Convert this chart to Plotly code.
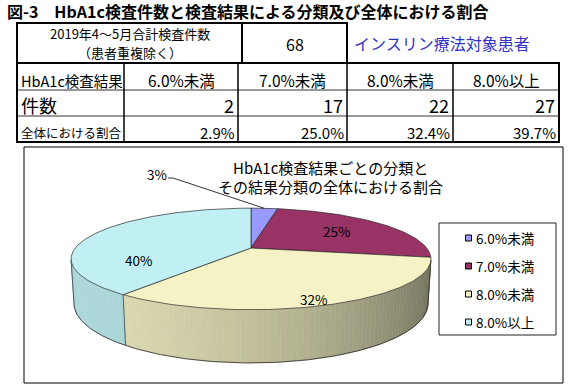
import numpy as np
import plotly.graph_objects as go

# ---------------- data ----------------
chart_title = "図-3　HbA1c検査件数と検査結果による分類及び全体における割合"
period_lines = ["2019年4～5月合計検査件数", "（患者重複除く）"]
total_count = 68
target_note = "インスリン療法対象患者"
row_headers = ["HbA1c検査結果", "件数", "全体における割合"]
categories = ["6.0%未満", "7.0%未満", "8.0%未満", "8.0%以上"]
counts = [2, 17, 22, 27]
pie_title_lines = ["HbA1c検査結果ごとの分類と", "その結果分類の全体における割合"]

# ---------------- styles / layout ----------------
W, H = 578, 389
JP = "Noto Sans CJK JP, sans-serif"
top_colors = [(153, 153, 255), (153, 51, 102), (245, 243, 198), (192, 240, 243)]

# table geometry
COL_X = [17, 124, 238, 347, 453, 559]
ROW_Y = [23, 63, 90, 116, 142]
TOP_SPLIT = 242
# chart box
BOX = (24, 147, 563, 383)
LEG = (439, 223, 556, 335)

shares = [100.0 * c / total_count for c in counts]
share_labels = [f"{s:.1f}%" for s in shares]
pie_labels = [f"{round(s)}%" for s in shares]

fig = go.Figure()
ann = []
shapes = []


def text(x, y, s, size, anchor="center", color="black", family=JP, bold=False):
    if bold:
        s = "<b>" + s + "</b>"
    ann.append(dict(x=x, y=y, xref="x", yref="y", text=s, showarrow=False,
                    xanchor=anchor, yanchor="middle",
                    font=dict(size=size, color=color, family=family)))


def rect(x0, y0, x1, y1, w=1, color="black"):
    shapes.append(dict(type="rect", xref="x", yref="y", x0=x0, y0=y0, x1=x1, y1=y1,
                       line=dict(color=color, width=w)))


def line(x0, y0, x1, y1, w=1, color="black"):
    shapes.append(dict(type="line", xref="x", yref="y", x0=x0, y0=y0, x1=x1, y1=y1,
                       line=dict(color=color, width=w)))


# ---------------- title ----------------
text(5, 11, chart_title, 16, anchor="left", bold=True)

# ---------------- table ----------------
rect(COL_X[0], ROW_Y[0], TOP_SPLIT, ROW_Y[1], w=2)
rect(TOP_SPLIT, ROW_Y[0], COL_X[3], ROW_Y[1], w=2)
rect(COL_X[0], ROW_Y[1], COL_X[-1], ROW_Y[-1], w=2)
for yy in ROW_Y[2:-1]:
    line(COL_X[0], yy, COL_X[-1], yy, w=1, color="#333")
for xx in COL_X[1:-1]:
    line(xx, ROW_Y[1], xx, ROW_Y[-1], w=1.5)

text((COL_X[0] + TOP_SPLIT) / 2, 33.5, period_lines[0], 13)
text((COL_X[0] + TOP_SPLIT) / 2, 52.5, period_lines[1], 13)
text((TOP_SPLIT + COL_X[3]) / 2, 44, str(total_count), 16)
text(352, 43, target_note, 16, anchor="left", color="#3232c8")

text(19, 80, row_headers[0], 14.5, anchor="left")
text(19, 105, row_headers[1], 18, anchor="left")
text(19, 132, row_headers[2], 12.5, anchor="left")
for i, cat in enumerate(categories):
    x0, x1 = COL_X[i + 1], COL_X[i + 2]
    text((x0 + x1) / 2, 80, cat, 15.5)
    text(x1 - 2, 105, str(counts[i]), 18, anchor="right")
    text(x1 - 1, 132, share_labels[i], 15, anchor="right")

# ---------------- chart box ----------------
rect(*BOX, w=1)
text(330, 167, pie_title_lines[0], 15)
text(330, 186, pie_title_lines[1], 15)

# ---------------- 3D pie (perspective projection) ----------------
CX, CY = 251.0, 248.0
S = 175.7
DIST = 4.46
ALPHA = np.radians(16.0)
DEPTH = 0.258
ca, sa = np.cos(ALPHA), np.sin(ALPHA)


def proj(phi, r=1.0, Y=0.0):
    X = r * np.sin(phi)
    Z = -r * np.cos(phi)
    yc = Y * ca - Z * sa
    zc = DIST - (Y * sa + Z * ca)
    return CX + S * DIST * X / zc, CY - S * DIST * yc / zc


fr = np.array(counts, float) / sum(counts)
bounds = np.concatenate([[0], np.cumsum(fr)]) * 2 * np.pi

vis0 = np.arccos(-1.0 / (DIST * ca))
vis1 = 2 * np.pi - vis0
light = np.array([-0.8, 0.6])


def shade(c, f):
    return "rgb(%d,%d,%d)" % tuple(int(max(0, min(255, v * f))) for v in c)


# side walls
for i in range(len(counts)):
    a, b = max(bounds[i], vis0), min(bounds[i + 1], vis1)
    if b <= a:
        continue
    n = max(1, int(np.ceil((b - a) / np.radians(1.5))))
    edges = np.linspace(a, b, n + 1)
    for k in range(n):
        p0, p1 = edges[k], edges[k + 1]
        pm = (p0 + p1) / 2
        dot = light[0] * np.sin(pm) + light[1] * (-np.cos(pm))
        f = 0.62 + 0.28 * dot
        col = shade(top_colors[i], f)
        pts = [proj(p0), proj(p1), proj(p1, Y=-DEPTH), proj(p0, Y=-DEPTH), proj(p0)]
        fig.add_trace(go.Scatter(x=[p[0] for p in pts], y=[p[1] for p in pts],
                                 mode="lines", fill="toself", fillcolor=col,
                                 line=dict(color=col, width=0.6), hoverinfo="skip"))

# side outlines
ph = np.linspace(vis0, vis1, 200)
bx, by = proj(ph, Y=-DEPTH)
fig.add_trace(go.Scatter(x=bx, y=by, mode="lines", line=dict(color="#2a2a2a", width=0.8),
                         hoverinfo="skip"))
for p in [vis0, vis1] + [bb for bb in bounds[1:-1] if vis0 < bb < vis1]:
    x0, y0 = proj(p)
    x1, y1 = proj(p, Y=-DEPTH)
    fig.add_trace(go.Scatter(x=[x0, x1], y=[y0, y1], mode="lines",
                             line=dict(color="#2a2a2a", width=0.7), hoverinfo="skip"))

# top faces
for i in range(len(counts)):
    ph = np.linspace(bounds[i], bounds[i + 1], max(3, int(fr[i] * 360)))
    ax, ay = proj(ph)
    xs = np.concatenate([[CX], ax, [CX]])
    ys = np.concatenate([[CY], ay, [CY]])
    fig.add_trace(go.Scatter(x=xs, y=ys, mode="lines", fill="toself",
                             fillcolor=shade(top_colors[i], 1.0),
                             line=dict(color="#2a2a2a", width=0.7), hoverinfo="skip"))

# data labels
LABEL_POS = [(157, 174), (336, 231), (313, 299), (138, 260)]
for i, lab in enumerate(pie_labels):
    text(LABEL_POS[i][0], LABEL_POS[i][1], lab, 13.5)
# leader line for the small slice
mid0 = (bounds[0] + bounds[1]) / 2
ex, ey = proj(mid0)
fig.add_trace(go.Scatter(x=[168, 173, ex], y=[178, 178, ey], mode="lines",
                         line=dict(color="black", width=0.8), hoverinfo="skip"))

# ---------------- legend ----------------
rect(LEG[0], LEG[1], LEG[2], LEG[3], w=1, color="#222")
LEG_Y0, LEG_DY = 238, 28
for i, cat in enumerate(categories):
    yy = LEG_Y0 + i * LEG_DY
    shapes.append(dict(type="rect", xref="x", yref="y", x0=465.5, x1=471.5,
                       y0=yy - 3, y1=yy + 3, fillcolor=shade(top_colors[i], 1.0),
                       line=dict(color="black", width=1)))
    text(474, yy, cat, 13.5, anchor="left")

fig.update_layout(
    width=W, height=H, margin=dict(l=0, r=0, t=0, b=0),
    paper_bgcolor="white", plot_bgcolor="white", showlegend=False,
    xaxis=dict(range=[0, W], visible=False, fixedrange=True),
    yaxis=dict(range=[H, 0], visible=False, fixedrange=True),
    annotations=ann, shapes=shapes,
)
fig.write_html("out.html", config={"displayModeBar": False, "staticPlot": True},
               post_script="document.body.style.margin='0';")
